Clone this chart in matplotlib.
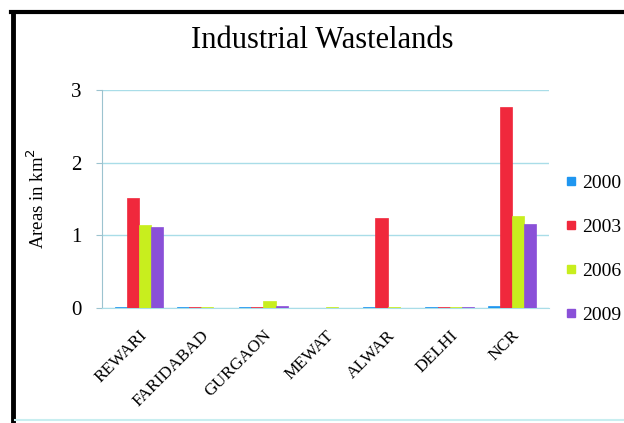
import matplotlib
matplotlib.use("Agg")
import matplotlib.pyplot as plt
from matplotlib.lines import Line2D
import numpy as np

plt.rcParams['font.family'] = ['Liberation Serif', 'DejaVu Serif']

regions = ["REWARI", "FARIDABAD", "GURGAON", "MEWAT", "ALWAR", "DELHI", "NCR"]
years = ["2000", "2003", "2006", "2009"]
area_2000 = [0.02, 0.01, 0.02, 0.00, 0.02, 0.02, 0.03]
area_2003 = [1.52, 0.02, 0.02, 0.00, 1.24, 0.01, 2.77]
area_2006 = [1.14, 0.01, 0.10, 0.01, 0.01, 0.01, 1.27]
area_2009 = [1.12, 0.00, 0.03, 0.00, 0.00, 0.01, 1.16]
colors = ["#1f96f0", "#f0283c", "#c8ee1e", "#8a50d8"]
series = [area_2000, area_2003, area_2006, area_2009]

fig = plt.figure(figsize=(6.24, 4.23), dpi=100)
W, H = 624, 423
ax = fig.add_axes([102 / W, 1 - 308 / H, (549 - 102) / W, (308 - 90) / H])

x = np.arange(len(regions))
bw = 0.195
for i, (vals, c) in enumerate(zip(series, colors)):
    ax.bar(x + (i - 1.5) * bw, vals, width=bw, color=c, edgecolor=c,
           linewidth=0.5, zorder=3)

ax.set_xlim(-0.6, 6.6)
ax.set_ylim(0, 3)
ax.set_yticks([0, 1, 2, 3])
ax.set_yticklabels(["0", "1", "2", "3"], fontsize=15)
ax.yaxis.grid(True, color="#a9dde8", linewidth=1.0, zorder=0)
ax.set_axisbelow(True)
ax.tick_params(axis='y', length=4, color="#9cc3cf", pad=11)
ax.tick_params(axis='x', length=0, pad=14)
ax.set_xticks(x)
ax.set_xticklabels(regions, rotation=45, ha='right', rotation_mode='anchor',
                   fontsize=12.5)
for s in ["top", "right"]:
    ax.spines[s].set_visible(False)
ax.spines["left"].set_color("#9cc3cf")
ax.spines["bottom"].set_color("#a9dde8")
ax.set_ylabel("Areas in km$^2$", fontsize=13.5, labelpad=16)

fig.text(322 / W, 1 - 40 / H, "Industrial Wastelands", fontsize=22,
         ha='center', va='center')

handles = [Line2D([], [], marker='s', linestyle='none', markersize=6,
                  color=c) for c in colors]
fig.legend(handles, years, loc='center left',
           bbox_to_anchor=(555 / W, 1 - 249 / H), frameon=False,
           fontsize=14, handlelength=0.6, handletextpad=0.3,
           labelspacing=1.35, borderpad=0)

# outer frame
fig.add_artist(Line2D([13 / W, 13 / W], [0, 1 - 12 / H], color='black',
                      linewidth=3.5, transform=fig.transFigure))
fig.add_artist(Line2D([11 / W, 1], [1 - 12 / H, 1 - 12 / H], color='black',
                      linewidth=3, transform=fig.transFigure))
fig.add_artist(Line2D([15 / W, 1], [1 - 420 / H, 1 - 420 / H],
                      color='#c8eef0', linewidth=1.5,
                      transform=fig.transFigure))

fig.savefig("out.png", dpi=100)
